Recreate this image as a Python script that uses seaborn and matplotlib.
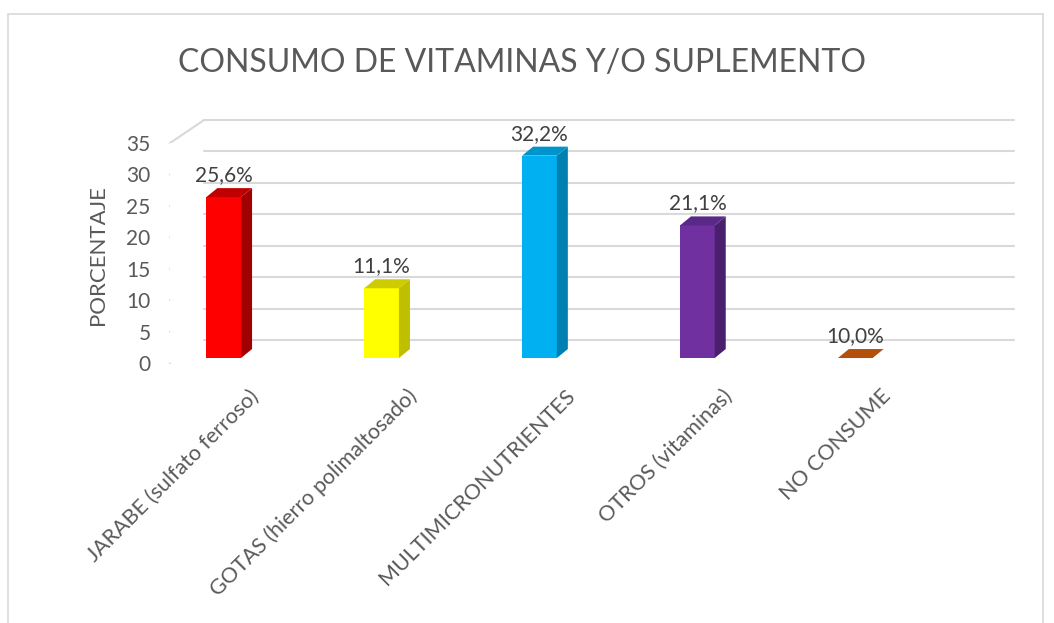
import pandas as pd
import numpy as np
import matplotlib
matplotlib.use("Agg")
import matplotlib.pyplot as plt
import matplotlib.transforms as mtransforms
from matplotlib.patches import Polygon, Rectangle
from matplotlib.lines import Line2D
import seaborn as sns

sns.set_theme(style="white")
plt.rcParams["font.family"] = ["Lato", "DejaVu Sans"]

# --- DATA ---
categorias = ["JARABE (sulfato ferroso)", "GOTAS (hierro polimaltosado)",
              "MULTIMICRONUTRIENTES", "OTROS (vitaminas)", "NO CONSUME"]
valores = [25.6, 11.1, 32.2, 21.1, 0.0]
etiquetas = ["25,6%", "11,1%", "32,2%", "21,1%", "10,0%"]
colores = ["#FF0000", "#FFFF00", "#00B0F0", "#7030A0", "#C55A11"]
lados = ["#A00000", "#BFBF00", "#0080B0", "#4A1F6E", "#8F4010"]
techos = ["#C00000", "#CCCC00", "#0094CC", "#5A2888", "#B4500C"]
yticks = [0, 5, 10, 15, 20, 25, 30, 35]

gris = "#595959"
grid_c = "#D9D9D9"

fig = plt.figure(figsize=(10.54, 6.23), dpi=100)
ax = fig.add_axes([0.1613, 0.4173, 0.7685, 0.3531])

df = pd.DataFrame({"cat": categorias, "val": valores})
sns.barplot(data=df, x="cat", y="val", hue="cat", palette=colores, legend=False,
            width=0.22, saturation=1, linewidth=0, ax=ax, zorder=3)

ax.set_xlim(-0.34, 4.79)
ax.set_ylim(0, 35)
for s in ax.spines.values():
    s.set_visible(False)

px = lambda dx, dy: mtransforms.ScaledTranslation(dx / 100, dy / 100, fig.dpi_scale_trans)

# back wall grid lines + left diagonals (3D look)
back_dx, back_dy = 34, 23
fig.canvas.draw()
for y in yticks:
    ax.plot([-0.34, 4.79], [y, y], color=grid_c, lw=1.5, clip_on=False,
            transform=ax.transData + px(back_dx, back_dy), zorder=0)
    p = ax.transData.transform((-0.34, y))
    fig.add_artist(Line2D([p[0], p[0] + back_dx], [p[1], p[1] + back_dy],
                          color=grid_c, lw=1.5, transform=None, zorder=0))

# bars: shift slightly back and add side and top faces
bar_off = px(0, 5)
dx_d, dy_d = 11 / 158, 9 / 6.29
for bar, side, top in zip(ax.patches, lados, techos):
    bar.set_transform(ax.transData + bar_off)
    x0 = bar.get_x()
    x1 = x0 + bar.get_width()
    h = bar.get_height()
    ax.add_patch(Polygon([(x1, 0), (x1 + dx_d, dy_d), (x1 + dx_d, h + dy_d), (x1, h)],
                         closed=True, facecolor=side, edgecolor="none",
                         transform=ax.transData + bar_off, zorder=3, clip_on=False))
    ax.add_patch(Polygon([(x0, h), (x1, h), (x1 + dx_d, h + dy_d), (x0 + dx_d, h + dy_d)],
                         closed=True, facecolor=top, edgecolor="none",
                         transform=ax.transData + bar_off, zorder=3, clip_on=False))

# data labels
for i, (v, lbl) in enumerate(zip(valores, etiquetas)):
    ax.text(i, v, lbl, ha="center", va="bottom", fontsize=15, color="#404040",
            transform=ax.transData + px(0, 17), zorder=4)

# axes text
ax.set_yticks(yticks)
ax.set_yticklabels([str(t) for t in yticks], fontsize=15, color=gris)
ax.tick_params(axis="y", length=0, pad=14)
ax.set_xticks(range(len(categorias)))
ax.set_xticklabels(categorias, rotation=45, ha="right", va="center",
                   rotation_mode="anchor", fontsize=15.5, color=gris)
ax.tick_params(axis="x", length=0, pad=0)
for lbl in ax.get_xticklabels():
    lbl.set_transform(lbl.get_transform() + px(32, -30))

ax.set_xlabel("")
ax.set_ylabel("PORCENTAJE", fontsize=16, color=gris)
ax.yaxis.set_label_coords(-0.076, 0.49)

fig.text(0.495, 1 - 63 / 623, "CONSUMO DE VITAMINAS Y/O SUPLEMENTO",
         ha="center", va="center", fontsize=23, color=gris)

# chart frame
fig.add_artist(Rectangle((8 / 1054, -0.05), 1035 / 1054, 1.05 - 14 / 623,
                         transform=fig.transFigure, fill=False,
                         edgecolor=grid_c, lw=1.2))

fig.savefig("out.png", dpi=100, facecolor="white")
